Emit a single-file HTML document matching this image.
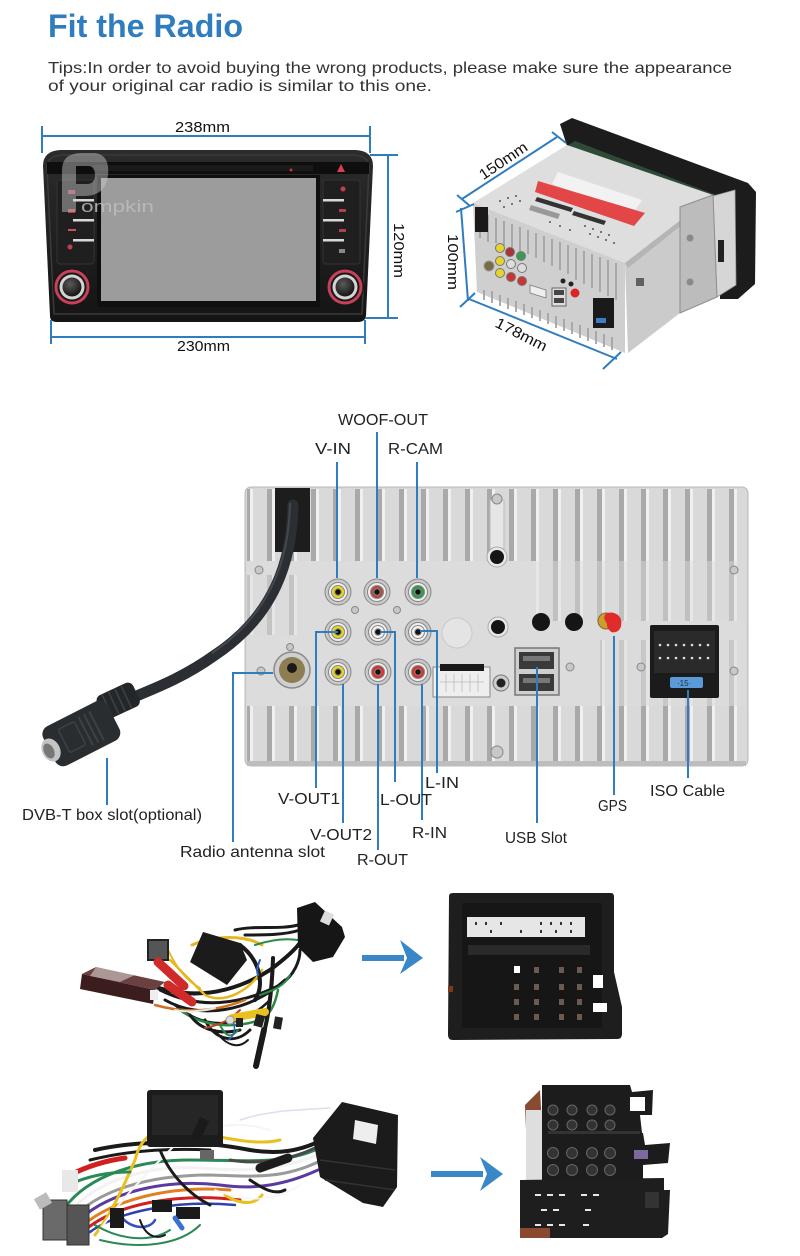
<!DOCTYPE html>
<html><head><meta charset="utf-8"><style>
html,body{margin:0;padding:0;background:#fff;}
svg{display:block;}
text{font-family:"Liberation Sans",sans-serif;}
</style></head><body>
<svg width="800" height="1256" viewBox="0 0 800 1256" xmlns="http://www.w3.org/2000/svg">
<defs>
 <pattern id="fins" x="245" y="0" width="22" height="10" patternUnits="userSpaceOnUse">
   <rect width="22" height="10" fill="#d9d9d9"/>
   <rect x="0" width="5" height="10" fill="#a9a9a9"/>
   <rect x="5" width="3" height="10" fill="#f0f0f0"/>
 </pattern>
 <linearGradient id="body" x1="0" y1="0" x2="0" y2="1">
   <stop offset="0" stop-color="#2c2c2c"/><stop offset="1" stop-color="#141414"/>
 </linearGradient>
 <radialGradient id="knobg" cx="0.4" cy="0.35" r="0.7">
   <stop offset="0" stop-color="#5a5a5a"/><stop offset="1" stop-color="#111"/>
 </radialGradient>
</defs>

<!-- Header -->
<text x="48" y="37" font-size="32" font-weight="bold" fill="#2f7dbf" textLength="195" lengthAdjust="spacingAndGlyphs">Fit the Radio</text>
<text x="48" y="73" font-size="16" fill="#333" textLength="684" lengthAdjust="spacingAndGlyphs">Tips:In order to avoid buying the wrong products, please make sure the appearance</text>
<text x="48" y="91" font-size="16" fill="#333" textLength="384" lengthAdjust="spacingAndGlyphs">of your original car radio is similar to this one.</text>

<!-- ===== Radio front ===== -->
<g>
 <path d="M43,166 Q43,151 60,150 L356,150 Q373,151 373,166 L366,316 Q365,322 358,322 L57,322 Q50,322 50,316 Z" fill="url(#body)"/>
 <path d="M47,168 Q47,156 62,155 L354,155 Q369,156 369,168 L362,314 L54,314 Z" fill="none" stroke="#3a3a3a" stroke-width="1.5"/>
 <rect x="47" y="162" width="322" height="12" fill="#0e0e0e"/>
 <rect x="93" y="165" width="220" height="6" fill="#1a1a1a"/>
 <circle cx="291" cy="170" r="1.5" fill="#d03030"/>
 <polygon points="337,172 341,164 345,172" fill="#d84050"/>
 <rect x="97" y="175" width="223" height="132" fill="#0f0f0f"/>
 <rect x="101" y="178" width="215" height="123" fill="#9c9c9c"/>
 <rect x="57" y="180" width="37" height="84" rx="3" fill="#1f1f1f" stroke="#333" stroke-width="1"/>
 <rect x="73" y="199" width="21" height="2.5" fill="#d8d8d8"/>
 <rect x="73" y="219" width="21" height="2.5" fill="#d8d8d8"/>
 <rect x="73" y="239" width="21" height="2.5" fill="#d8d8d8"/>
 <rect x="68" y="190" width="7" height="4" fill="#b04050"/>
 <rect x="68" y="209" width="7" height="4" fill="#b04050"/>
 <rect x="68" y="229" width="8" height="2" fill="#d05060"/>
 <circle cx="70" cy="247" r="2.5" fill="#c04050"/>
 <rect x="323" y="180" width="37" height="84" rx="3" fill="#1f1f1f" stroke="#333" stroke-width="1"/>
 <rect x="323" y="199" width="21" height="2.5" fill="#d8d8d8"/>
 <rect x="323" y="219" width="21" height="2.5" fill="#d8d8d8"/>
 <rect x="323" y="239" width="21" height="2.5" fill="#d8d8d8"/>
 <circle cx="343" cy="189" r="2.5" fill="#c04050"/>
 <rect x="339" y="209" width="7" height="3" fill="#b04050"/>
 <rect x="339" y="229" width="7" height="3" fill="#b04050"/>
 <rect x="339" y="249" width="6" height="4" fill="#888"/>
 <circle cx="72" cy="287" r="19" fill="#181818"/>
 <circle cx="72" cy="287" r="16" fill="none" stroke="#c8405a" stroke-width="3"/>
 <circle cx="72" cy="287" r="12.5" fill="#d4d4d4"/>
 <circle cx="72" cy="287" r="9.5" fill="url(#knobg)"/>
 <circle cx="345" cy="287" r="19" fill="#181818"/>
 <circle cx="345" cy="287" r="16" fill="none" stroke="#c8405a" stroke-width="3"/>
 <circle cx="345" cy="287" r="12.5" fill="#d4d4d4"/>
 <circle cx="345" cy="287" r="9.5" fill="url(#knobg)"/>
 <path d="M62,212 L62,170 Q62,153 82,153 L95,153 Q110,155 108,175 Q106,195 86,196 L76,196 L76,212 Z M76,166 L76,184 L88,184 Q95,183 95,175 Q95,166 88,166 Z" fill="#cfcfcf" opacity="0.45" fill-rule="evenodd"/>
 <text x="81" y="212" font-size="17" fill="#bdbdbd" opacity="0.85" textLength="73" lengthAdjust="spacingAndGlyphs">ompkin</text>
</g>
<g stroke="#2f7dbf" stroke-width="2" fill="none">
 <line x1="42" y1="136" x2="370" y2="136"/>
 <line x1="42" y1="126" x2="42" y2="153"/>
 <line x1="370" y1="126" x2="370" y2="153"/>
 <line x1="388" y1="155" x2="388" y2="318"/>
 <line x1="370" y1="155" x2="398" y2="155"/>
 <line x1="365" y1="318" x2="398" y2="318"/>
 <line x1="51" y1="337" x2="365" y2="337"/>
 <line x1="51" y1="320" x2="51" y2="344"/>
 <line x1="365" y1="320" x2="365" y2="344"/>
</g>
<text x="175" y="132" font-size="15" fill="#111" textLength="55" lengthAdjust="spacingAndGlyphs">238mm</text>
<text x="177" y="351" font-size="15" fill="#111" textLength="53" lengthAdjust="spacingAndGlyphs">230mm</text>
<text x="0" y="0" font-size="15" fill="#111" textLength="55" lengthAdjust="spacingAndGlyphs" transform="translate(394,223) rotate(90)">120mm</text>

<!-- ===== 3D unit ===== -->
<g>
 <polygon points="560,124 572,118 748,183 756,192 755,284 738,299 720,299 720,205 567,146" fill="#1c1c1c"/>
 <polygon points="567,146 713,200 716,195 575,141" fill="#3b6a4a" opacity="0.6"/>
 <polygon points="473,203 567,145 713,195 625,263" fill="#dedede"/>
 <polygon points="473,203 625,263 625,353 477,292" fill="#cfcfcf"/>
 <g stroke="#a3a3a3" stroke-width="1.8">
  <line x1="480" y1="212" x2="480" y2="238"/><line x1="488" y1="215" x2="488" y2="242"/><line x1="496" y1="218" x2="496" y2="243"/>
  <line x1="504" y1="221" x2="504" y2="246"/><line x1="512" y1="224" x2="512" y2="249"/><line x1="520" y1="227" x2="520" y2="251"/>
  <line x1="528" y1="230" x2="528" y2="254"/><line x1="536" y1="233" x2="536" y2="258"/><line x1="544" y1="236" x2="544" y2="262"/>
  <line x1="552" y1="239" x2="552" y2="266"/><line x1="560" y1="242" x2="560" y2="270"/><line x1="568" y1="245" x2="568" y2="274"/>
  <line x1="576" y1="248" x2="576" y2="280"/><line x1="584" y1="251" x2="584" y2="284"/><line x1="592" y1="254" x2="592" y2="288"/>
  <line x1="600" y1="257" x2="600" y2="292"/><line x1="608" y1="260" x2="608" y2="296"/><line x1="616" y1="263" x2="616" y2="300"/>
  <line x1="484" y1="300" x2="484" y2="290"/><line x1="492" y1="303" x2="492" y2="291"/><line x1="500" y1="306" x2="500" y2="295"/>
  <line x1="508" y1="309" x2="508" y2="298"/><line x1="516" y1="312" x2="516" y2="301"/><line x1="524" y1="315" x2="524" y2="304"/>
  <line x1="532" y1="318" x2="532" y2="307"/><line x1="540" y1="321" x2="540" y2="310"/><line x1="548" y1="324" x2="548" y2="313"/>
  <line x1="556" y1="328" x2="556" y2="316"/><line x1="564" y1="331" x2="564" y2="319"/><line x1="572" y1="334" x2="572" y2="322"/>
  <line x1="580" y1="338" x2="580" y2="325"/><line x1="588" y1="341" x2="588" y2="328"/><line x1="596" y1="344" x2="596" y2="331"/>
  <line x1="604" y1="347" x2="604" y2="334"/><line x1="612" y1="350" x2="612" y2="337"/>
 </g>
 <polygon points="625,263 713,195 708,296 680,313 628,353" fill="#cbcbcb"/>
 <polygon points="625,263 713,195 713,200 628,268" fill="#b5b5b5"/>
 <polygon points="713,196 735,190 736,285 717,297" fill="#d6d6d6" stroke="#9a9a9a" stroke-width="0.8"/>
 <polygon points="680,207 713,195 717,297 680,313" fill="#bcbcbc" stroke="#8d8d8d" stroke-width="1"/>
 <circle cx="690" cy="238" r="3.5" fill="#8a8a8a"/>
 <circle cx="690" cy="282" r="3.5" fill="#8a8a8a"/>
 <rect x="718" y="240" width="6" height="22" fill="#222"/>
 <rect x="636" y="278" width="8" height="8" fill="#333" opacity="0.7"/>
 <polygon points="558,172 642,200 633,213 552,184" fill="#f2f2f2"/>
 <polygon points="538,181 645,213 634,226 535,192" fill="#e24646"/>
 <polygon points="537,197 573,208 571,212 535,201" fill="#333"/>
 <polygon points="574,211 606,221 604,225 572,215" fill="#333"/>
 <polygon points="531,205 560,214 558,219 529,210" fill="#999"/>
 <g fill="#555">
  <circle cx="500" cy="201" r="1"/><circle cx="508" cy="198" r="1"/><circle cx="516" cy="196" r="1"/><circle cx="504" cy="207" r="1"/><circle cx="512" cy="204" r="1"/><circle cx="520" cy="201" r="1"/>
  <circle cx="585" cy="226" r="1"/><circle cx="593" cy="229" r="1"/><circle cx="601" cy="232" r="1"/><circle cx="609" cy="235" r="1"/><circle cx="590" cy="234" r="1"/><circle cx="598" cy="237" r="1"/><circle cx="606" cy="240" r="1"/><circle cx="614" cy="243" r="1"/><circle cx="550" cy="222" r="1"/><circle cx="560" cy="226" r="1"/><circle cx="570" cy="230" r="1"/>
 </g>
 <rect x="475" y="207" width="13" height="25" fill="#1a1a1a"/>
 <g stroke="#777" stroke-width="1">
  <circle cx="500" cy="248" r="4.5" fill="#e5d330"/><circle cx="510" cy="252" r="4.5" fill="#a33"/><circle cx="521" cy="256" r="4.5" fill="#3a9a50"/>
  <circle cx="500" cy="261" r="4.5" fill="#e5d330"/><circle cx="511" cy="264" r="4.5" fill="#ddd"/><circle cx="522" cy="268" r="4.5" fill="#ddd"/>
  <circle cx="500" cy="273" r="4.5" fill="#e5d330"/><circle cx="511" cy="277" r="4.5" fill="#c33"/><circle cx="522" cy="281" r="4.5" fill="#c33"/>
 </g>
 <circle cx="489" cy="266" r="5" fill="#7a6a45" stroke="#999"/>
 <polygon points="530,285 546,290 546,298 530,293" fill="#eee" stroke="#777" stroke-width="0.8"/>
 <rect x="552" y="288" width="14" height="18" fill="#ddd" stroke="#666" stroke-width="1"/>
 <rect x="554" y="290" width="10" height="5" fill="#444"/><rect x="554" y="298" width="10" height="5" fill="#444"/>
 <circle cx="575" cy="293" r="4.5" fill="#d22"/>
 <circle cx="563" cy="281" r="2.5" fill="#222"/><circle cx="571" cy="284" r="2.5" fill="#222"/>
 <rect x="593" y="298" width="21" height="30" fill="#1a1a1a"/>
 <rect x="596" y="318" width="10" height="5" fill="#3c7dc8"/>
</g>
<g stroke="#2f7dbf" stroke-width="2" fill="none">
 <line x1="462" y1="199" x2="557" y2="137"/>
 <line x1="457" y1="195" x2="470" y2="206"/>
 <line x1="552" y1="132" x2="566" y2="143"/>
 <line x1="461" y1="208" x2="468" y2="301"/>
 <line x1="456" y1="212" x2="474" y2="204"/>
 <line x1="460" y1="307" x2="475" y2="293"/>
 <line x1="469" y1="299" x2="617" y2="359"/>
 <line x1="603" y1="369" x2="621" y2="352"/>
</g>
<text x="0" y="0" font-size="15" fill="#111" text-anchor="middle" textLength="55" lengthAdjust="spacingAndGlyphs" transform="translate(506,165) rotate(-34)">150mm</text>
<text x="0" y="0" font-size="15" fill="#111" text-anchor="middle" textLength="56" lengthAdjust="spacingAndGlyphs" transform="translate(448,262) rotate(90)">100mm</text>
<text x="0" y="0" font-size="15" fill="#111" text-anchor="middle" textLength="56" lengthAdjust="spacingAndGlyphs" transform="translate(519,339) rotate(27)">178mm</text>

<!-- ===== Back panel ===== -->
<g>
 <rect x="245" y="487" width="503" height="279" rx="6" fill="#d8d8d8" stroke="#b8b8b8" stroke-width="1"/>
 <rect x="247" y="489" width="499" height="72" fill="url(#fins)"/>
 <rect x="247" y="706" width="499" height="56" fill="url(#fins)"/>
 <rect x="247" y="561" width="499" height="145" fill="#dcdcdc"/>
 <rect x="536" y="561" width="210" height="60" fill="url(#fins)" opacity="0.55"/>
 <rect x="600" y="640" width="146" height="66" fill="url(#fins)" opacity="0.4"/>
 <rect x="247" y="575" width="50" height="60" fill="url(#fins)" opacity="0.5"/>
 <rect x="247" y="761" width="499" height="5" fill="#bdbdbd"/>
 <rect x="490" y="500" width="14" height="55" fill="#e6e6e6" stroke="#bbb"/>
 <circle cx="497" cy="557" r="10" fill="#e8e8e8" stroke="#aaa"/>
 <circle cx="497" cy="557" r="7" fill="#151515"/>
 <rect x="275" y="488" width="35" height="64" fill="#1d1d1d"/>
 <g fill="#c8c8c8" stroke="#888" stroke-width="1">
  <circle cx="497" cy="499" r="5"/><circle cx="497" cy="752" r="6"/><circle cx="259" cy="570" r="4"/><circle cx="734" cy="570" r="4"/>
  <circle cx="261" cy="671" r="4"/><circle cx="734" cy="671" r="4"/><circle cx="641" cy="667" r="4"/><circle cx="570" cy="667" r="4"/>
  <circle cx="355" cy="610" r="3.5"/><circle cx="397" cy="610" r="3.5"/><circle cx="290" cy="647" r="3.5"/>
 </g>
 <g stroke="#888" stroke-width="1">
  <circle cx="338" cy="592" r="13" fill="#c9c9c9"/><circle cx="338" cy="592" r="9.5" fill="#efefef"/><circle cx="338" cy="592" r="6.5" fill="#e8d81c"/><circle cx="338" cy="592" r="3.2" fill="#111"/>
  <circle cx="377" cy="592" r="13" fill="#c9c9c9"/><circle cx="377" cy="592" r="9.5" fill="#efefef"/><circle cx="377" cy="592" r="6.5" fill="#b4483c"/><circle cx="377" cy="592" r="3.2" fill="#111"/>
  <circle cx="418" cy="592" r="13" fill="#c9c9c9"/><circle cx="418" cy="592" r="9.5" fill="#efefef"/><circle cx="418" cy="592" r="6.5" fill="#2f9a4c"/><circle cx="418" cy="592" r="3.2" fill="#111"/>
  <circle cx="338" cy="632" r="13" fill="#c9c9c9"/><circle cx="338" cy="632" r="9.5" fill="#efefef"/><circle cx="338" cy="632" r="6.5" fill="#e8d81c"/><circle cx="338" cy="632" r="3.2" fill="#111"/>
  <circle cx="378" cy="632" r="13" fill="#c9c9c9"/><circle cx="378" cy="632" r="9.5" fill="#efefef"/><circle cx="378" cy="632" r="6.5" fill="#f4f4f4"/><circle cx="378" cy="632" r="3.2" fill="#111"/>
  <circle cx="418" cy="632" r="13" fill="#c9c9c9"/><circle cx="418" cy="632" r="9.5" fill="#efefef"/><circle cx="418" cy="632" r="6.5" fill="#f4f4f4"/><circle cx="418" cy="632" r="3.2" fill="#111"/>
  <circle cx="338" cy="672" r="13" fill="#c9c9c9"/><circle cx="338" cy="672" r="9.5" fill="#efefef"/><circle cx="338" cy="672" r="6.5" fill="#e8d81c"/><circle cx="338" cy="672" r="3.2" fill="#111"/>
  <circle cx="378" cy="672" r="13" fill="#c9c9c9"/><circle cx="378" cy="672" r="9.5" fill="#efefef"/><circle cx="378" cy="672" r="6.5" fill="#d8302a"/><circle cx="378" cy="672" r="3.2" fill="#111"/>
  <circle cx="418" cy="672" r="13" fill="#c9c9c9"/><circle cx="418" cy="672" r="9.5" fill="#efefef"/><circle cx="418" cy="672" r="6.5" fill="#d8302a"/><circle cx="418" cy="672" r="3.2" fill="#111"/>
 </g>
 <circle cx="292" cy="670" r="18" fill="#cfcfcf" stroke="#8a8a8a" stroke-width="1.5"/>
 <circle cx="292" cy="670" r="13" fill="#8c7d52"/>
 <circle cx="292" cy="668" r="5" fill="#1a1a1a"/>
 <circle cx="457" cy="633" r="15" fill="#e4e4e4" stroke="#c8c8c8"/>
 <circle cx="498" cy="627" r="10" fill="#e8e8e8" stroke="#aaa"/>
 <circle cx="498" cy="627" r="7" fill="#151515"/>
 <circle cx="541" cy="622" r="9" fill="#151515"/>
 <circle cx="574" cy="622" r="9" fill="#151515"/>
 <rect x="433" y="667" width="57" height="30" fill="#eeeeee" stroke="#888" stroke-width="1"/>
 <rect x="440" y="664" width="44" height="7" fill="#1a1a1a"/>
 <g stroke="#bbb" stroke-width="0.8"><line x1="440" y1="682" x2="484" y2="682"/><line x1="446" y1="674" x2="446" y2="692"/><line x1="454" y1="674" x2="454" y2="692"/><line x1="462" y1="674" x2="462" y2="692"/><line x1="470" y1="674" x2="470" y2="692"/><line x1="478" y1="674" x2="478" y2="692"/></g>
 <circle cx="501" cy="683" r="8" fill="#ccc" stroke="#777"/>
 <circle cx="501" cy="683" r="4.5" fill="#222"/>
 <rect x="515" y="648" width="44" height="47" fill="#cfcfcf" stroke="#777" stroke-width="1.5"/>
 <rect x="519" y="652" width="35" height="17" fill="#3a3a3a"/>
 <rect x="519" y="674" width="35" height="17" fill="#3a3a3a"/>
 <rect x="523" y="656" width="27" height="5" fill="#777"/>
 <rect x="523" y="678" width="27" height="5" fill="#777"/>
 <circle cx="606" cy="621" r="8" fill="#c9a030" stroke="#8a6a20"/>
 <path d="M604,618 Q605,611 614,613 Q623,616 621,626 Q618,634 611,632 Z" fill="#e02a2a"/>
 <circle cx="614" cy="625" r="7" fill="#e22c2c"/>
 <rect x="650" y="625" width="69" height="73" rx="2" fill="#1b1b1b"/>
 <rect x="654" y="631" width="61" height="42" fill="#2a2a2a"/>
 <g fill="#ddd"><circle cx="660" cy="645" r="1.3"/><circle cx="668" cy="645" r="1.3"/><circle cx="676" cy="645" r="1.3"/><circle cx="684" cy="645" r="1.3"/><circle cx="692" cy="645" r="1.3"/><circle cx="700" cy="645" r="1.3"/><circle cx="708" cy="645" r="1.3"/>
  <circle cx="660" cy="658" r="1.3"/><circle cx="668" cy="658" r="1.3"/><circle cx="676" cy="658" r="1.3"/><circle cx="684" cy="658" r="1.3"/><circle cx="692" cy="658" r="1.3"/><circle cx="700" cy="658" r="1.3"/><circle cx="708" cy="658" r="1.3"/></g>
 <rect x="670" y="677" width="33" height="11" rx="2" fill="#5a9ad8"/>
 <text x="677" y="686" font-size="8" fill="#234">·15·</text>
</g>

<!-- cable + DVB-T plug -->
<path d="M293,505 C292,560 275,615 215,655 C180,680 150,690 122,702" stroke="#2b2f33" stroke-width="11" fill="none" stroke-linecap="round"/>
<path d="M290,503 C289,558 272,613 212,653" stroke="#555a60" stroke-width="2" fill="none" opacity="0.6"/>
<g transform="rotate(-25 120 700)">
 <rect x="98" y="687" width="40" height="26" rx="6" fill="#24272a"/>
 <g stroke="#3e4246" stroke-width="1.5"><line x1="106" y1="688" x2="106" y2="712"/><line x1="113" y1="688" x2="113" y2="712"/><line x1="120" y1="688" x2="120" y2="712"/><line x1="127" y1="688" x2="127" y2="712"/></g>
</g>
<g transform="rotate(-27 80 733)">
 <rect x="45" y="712" width="72" height="44" rx="9" fill="#2a2d30"/>
 <rect x="62" y="720" width="18" height="26" rx="2" fill="none" stroke="#3d4145" stroke-width="1.5"/>
 <g stroke="#3d4145" stroke-width="2"><line x1="86" y1="718" x2="86" y2="750"/><line x1="92" y1="718" x2="92" y2="750"/><line x1="98" y1="718" x2="98" y2="750"/></g>
</g>
<ellipse cx="51" cy="750" rx="9" ry="12" fill="#c4c4c4" transform="rotate(-27 51 750)"/>
<ellipse cx="49" cy="751" rx="5" ry="8" fill="#777" transform="rotate(-27 49 751)"/>

<!-- callout lines -->
<g stroke="#2f7dbf" stroke-width="2" fill="none">
 <line x1="377" y1="432" x2="377" y2="578"/>
 <line x1="337" y1="462" x2="337" y2="578"/>
 <line x1="417" y1="462" x2="417" y2="578"/>
 <path d="M338,632 H316 V788"/>
 <line x1="343" y1="684" x2="343" y2="823"/>
 <line x1="378" y1="684" x2="378" y2="850"/>
 <path d="M380,632 H395 V782"/>
 <line x1="422" y1="684" x2="422" y2="820"/>
 <path d="M420,631 H437 V773"/>
 <path d="M273,673 H233 V842"/>
 <line x1="107" y1="758" x2="107" y2="805"/>
 <line x1="537" y1="667" x2="537" y2="823"/>
 <line x1="614" y1="636" x2="614" y2="795"/>
 <line x1="688" y1="690" x2="688" y2="778"/>
</g>
<g font-size="16" fill="#222">
 <text x="338" y="425" textLength="90" lengthAdjust="spacingAndGlyphs">WOOF-OUT</text>
 <text x="315" y="454" textLength="36" lengthAdjust="spacingAndGlyphs">V-IN</text>
 <text x="388" y="454" textLength="55" lengthAdjust="spacingAndGlyphs">R-CAM</text>
 <text x="278" y="804" textLength="62" lengthAdjust="spacingAndGlyphs">V-OUT1</text>
 <text x="380" y="805" textLength="52" lengthAdjust="spacingAndGlyphs">L-OUT</text>
 <text x="425" y="788" textLength="34" lengthAdjust="spacingAndGlyphs">L-IN</text>
 <text x="310" y="840" textLength="62" lengthAdjust="spacingAndGlyphs">V-OUT2</text>
 <text x="412" y="838" textLength="35" lengthAdjust="spacingAndGlyphs">R-IN</text>
 <text x="357" y="865" textLength="51" lengthAdjust="spacingAndGlyphs">R-OUT</text>
 <text x="505" y="843" textLength="62" lengthAdjust="spacingAndGlyphs">USB Slot</text>
 <text x="598" y="811" textLength="29" lengthAdjust="spacingAndGlyphs">GPS</text>
 <text x="650" y="796" textLength="75" lengthAdjust="spacingAndGlyphs">ISO Cable</text>
 <text x="180" y="857" textLength="145" lengthAdjust="spacingAndGlyphs">Radio antenna slot</text>
 <text x="22" y="820" textLength="180" lengthAdjust="spacingAndGlyphs">DVB-T box slot(optional)</text>
</g>

<!-- ===== Harness 1 ===== -->
<g fill="none" stroke-linecap="round">
 <path d="M150,985 C190,1000 230,995 270,970 C290,955 300,945 305,935" stroke="#1a1a1a" stroke-width="4"/>
 <path d="M160,990 C200,1010 240,1005 280,985 C295,975 300,960 300,950" stroke="#1a1a1a" stroke-width="3"/>
 <path d="M165,1000 C200,1020 250,1012 285,980" stroke="#1a1a1a" stroke-width="3"/>
 <path d="M175,1005 C205,1030 240,1030 270,1000" stroke="#1a1a1a" stroke-width="2.5"/>
 <path d="M205,1020 C215,1040 235,1045 250,1030" stroke="#1a1a1a" stroke-width="3"/>
 <path d="M215,1030 C225,1045 238,1050 248,1040" stroke="#1a1a1a" stroke-width="2"/>
 <path d="M170,960 C185,975 195,985 205,995 C225,1005 250,990 262,970" stroke="#e6b820" stroke-width="2.5"/>
 <path d="M192,945 C215,935 245,935 262,945" stroke="#e6b820" stroke-width="3"/>
 <path d="M168,950 C175,965 185,980 200,988" stroke="#e6b820" stroke-width="2"/>
 <path d="M155,1005 C190,1015 220,1010 245,1000" stroke="#d07020" stroke-width="2.5"/>
 <path d="M180,1010 C200,1025 230,1030 260,1020 C270,1015 275,1005 278,990" stroke="#2a8a45" stroke-width="2.5"/>
 <path d="M190,1015 C200,1030 220,1035 240,1030" stroke="#1a1a1a" stroke-width="3"/>
 <path d="M240,945 C260,960 265,985 255,1000" stroke="#1a1a1a" stroke-width="4"/>
 <path d="M273,958 C272,990 268,1020 262,1040" stroke="#1a1a1a" stroke-width="4"/>
 <path d="M235,930 C255,925 280,930 298,925" stroke="#1a1a1a" stroke-width="3"/>
 <path d="M245,935 C265,935 285,935 300,930" stroke="#1a1a1a" stroke-width="3"/>
 <path d="M255,945 C270,940 285,938 298,940" stroke="#2a8a45" stroke-width="2"/>
 <path d="M240,1010 C230,1020 220,1025 205,1028" stroke="#c04020" stroke-width="2"/>
 <path d="M260,960 C258,965 256,970 258,975" stroke="#3060c0" stroke-width="2"/>
 <path d="M220,1025 C225,1035 230,1040 238,1030" stroke="#2a8a45" stroke-width="2"/>
 <path d="M232,1020 C238,1030 232,1038 228,1040" stroke="#3060c0" stroke-width="1.5"/>
 <path d="M260,995 C275,990 285,985 290,975" stroke="#2a8a45" stroke-width="2"/>
 <path d="M175,1010 C185,1012 200,1012 215,1008" stroke="#e8e8e8" stroke-width="2"/>
</g>
<polygon points="82,974 96,967 165,982 155,990" fill="#6a4040"/>
<polygon points="82,974 155,990 153,1004 80,989" fill="#3b1d1d"/>
<polygon points="96,967 135,975 120,982 90,976" fill="#d8d0d0" opacity="0.6"/>
<rect x="150" y="990" width="8" height="10" fill="#eee"/>
<polygon points="203,932 240,943 247,960 227,985 190,962" fill="#1b1b1b"/>
<polygon points="315,902 342,927 345,937 333,957 313,962 298,947 297,908" fill="#161616"/>
<rect x="322" y="912" width="10" height="12" fill="#ddd" transform="rotate(25 327 918)"/>
<rect x="148" y="940" width="20" height="20" fill="#555" stroke="#222" stroke-width="2"/>
<path d="M158,962 L184,986" stroke="#d02a2a" stroke-width="9" stroke-linecap="round"/>
<path d="M168,985 L192,1002" stroke="#d02a2a" stroke-width="9" stroke-linecap="round"/>
<path d="M232,1018 L265,1012" stroke="#e8c020" stroke-width="8" stroke-linecap="round"/>
<circle cx="230" cy="1020" r="4" fill="#ddd" stroke="#999"/>
<path d="M264,1030 L256,1066" stroke="#1a1a1a" stroke-width="6" stroke-linecap="round"/>
<rect x="255" y="1015" width="9" height="12" fill="#222" transform="rotate(15 260 1020)"/>
<rect x="236" y="1018" width="7" height="9" fill="#222"/>
<rect x="274" y="1017" width="8" height="12" fill="#222" transform="rotate(10 278 1023)"/>

<!-- arrows -->
<rect x="362" y="955" width="42" height="6" fill="#3a87c8"/>
<polygon points="400,940 423,958 400,974 407,958" fill="#3a87c8"/>
<rect x="431" y="1171" width="52" height="6" fill="#3a87c8"/>
<polygon points="480,1157 503,1174 480,1191 487,1174" fill="#3a87c8"/>

<!-- ===== Quadlock connector ===== -->
<g>
 <path d="M449,896 Q449,893 453,893 L611,893 Q614,893 614,897 L614,972 L622,1007 L622,1034 Q622,1039 617,1039 L453,1040 Q448,1040 448,1035 Z" fill="#1e1e1e"/>
 <rect x="462" y="903" width="140" height="125" fill="#161616"/>
 <rect x="467" y="917" width="118" height="20" fill="#e6e6e6"/>
 <g fill="#333"><rect x="475" y="922" width="2" height="3"/><rect x="485" y="922" width="2" height="3"/><rect x="500" y="922" width="2" height="3"/><rect x="540" y="922" width="2" height="3"/><rect x="550" y="922" width="2" height="3"/><rect x="560" y="922" width="2" height="3"/><rect x="570" y="922" width="2" height="3"/>
 <rect x="490" y="930" width="2" height="3"/><rect x="520" y="930" width="2" height="3"/><rect x="540" y="930" width="2" height="3"/><rect x="555" y="930" width="2" height="3"/><rect x="570" y="930" width="2" height="3"/></g>
 <rect x="468" y="945" width="122" height="10" fill="#2a2a2a"/>
 <rect x="593" y="975" width="10" height="13" fill="#fff"/>
 <rect x="593" y="1003" width="14" height="9" fill="#fff"/>
 <g fill="#6b5a50"><rect x="514" y="967" width="5" height="6"/><rect x="534" y="967" width="5" height="6"/><rect x="559" y="967" width="5" height="6"/><rect x="577" y="967" width="5" height="6"/>
 <rect x="514" y="984" width="5" height="6"/><rect x="534" y="984" width="5" height="6"/><rect x="559" y="984" width="5" height="6"/><rect x="577" y="984" width="5" height="6"/>
 <rect x="514" y="999" width="5" height="6"/><rect x="534" y="999" width="5" height="6"/><rect x="559" y="999" width="5" height="6"/><rect x="577" y="999" width="5" height="6"/>
 <rect x="514" y="1014" width="5" height="6"/><rect x="534" y="1014" width="5" height="6"/><rect x="559" y="1014" width="5" height="6"/><rect x="577" y="1014" width="5" height="6"/></g>
 <rect x="514" y="966" width="6" height="7" fill="#fff"/>
 <rect x="448" y="986" width="5" height="6" fill="#7a3a20"/>
</g>

<!-- ===== Harness 2 ===== -->
<g fill="none" stroke-linecap="round">
 <path d="M95,1150 C140,1140 200,1140 250,1150 C280,1155 300,1150 318,1142" stroke="#1a1a1a" stroke-width="4"/>
 <path d="M90,1160 C130,1150 170,1148 210,1150" stroke="#1a1a1a" stroke-width="3"/>
 <path d="M60,1215 C80,1180 130,1160 190,1160 C240,1160 280,1165 315,1150" stroke="#2a8a55" stroke-width="3"/>
 <path d="M65,1220 C85,1185 140,1165 200,1168 C250,1172 280,1170 318,1155" stroke="#f2f2f2" stroke-width="3"/>
 <path d="M70,1222 C95,1190 150,1175 210,1175 C250,1176 280,1180 318,1162" stroke="#9a9a9a" stroke-width="3"/>
 <path d="M75,1225 C100,1195 160,1178 220,1185 C255,1190 285,1185 318,1170" stroke="#5a3aa0" stroke-width="3"/>
 <path d="M80,1228 C110,1200 170,1185 230,1190" stroke="#e08020" stroke-width="3"/>
 <path d="M85,1230 C115,1205 175,1192 240,1200" stroke="#d02020" stroke-width="3"/>
 <path d="M90,1232 C120,1210 180,1200 235,1205" stroke="#3040b0" stroke-width="2.5"/>
 <path d="M95,1235 C110,1215 120,1195 135,1160 C140,1140 150,1130 175,1128" stroke="#e8c020" stroke-width="3"/>
 <path d="M100,1230 C120,1200 150,1170 175,1145 C200,1125 240,1120 270,1130" stroke="#f5f5f5" stroke-width="2"/>
 <path d="M210,1135 C235,1140 260,1145 280,1140" stroke="#e8c020" stroke-width="3"/>
 <path d="M160,1150 C170,1175 190,1195 210,1205" stroke="#1a1a1a" stroke-width="3"/>
 <path d="M95,1225 C120,1240 150,1243 170,1230" stroke="#2a8a55" stroke-width="2"/>
 <path d="M120,1215 C130,1230 150,1230 155,1220" stroke="#3050c0" stroke-width="2.5"/>
 <path d="M70,1175 C90,1165 110,1160 125,1158" stroke="#d02020" stroke-width="5"/>
 <path d="M68,1185 C90,1175 110,1172 130,1172" stroke="#2a8a55" stroke-width="3"/>
 <path d="M240,1120 C270,1110 300,1110 330,1108" stroke="#dde" stroke-width="1.5"/>
 <path d="M250,1180 C265,1190 275,1195 285,1190" stroke="#1a1a1a" stroke-width="3"/>
 <path d="M230,1160 C260,1165 290,1160 315,1148" stroke="#4a4a4a" stroke-width="3"/>
 <path d="M225,1195 C240,1205 255,1205 262,1195" stroke="#e8c020" stroke-width="3"/>
 <path d="M215,1190 C240,1200 270,1205 300,1185" stroke="#f5f5f5" stroke-width="1.5"/>
 <path d="M100,1240 C140,1250 180,1245 200,1225" stroke="#2a8a55" stroke-width="2"/>
 <path d="M140,1220 C145,1235 155,1240 165,1235" stroke="#1a1a1a" stroke-width="2"/>
</g>
<rect x="147" y="1090" width="76" height="57" rx="3" fill="#1c1c1c"/>
<rect x="152" y="1095" width="66" height="40" fill="#262626"/>
<path d="M260,1168 L288,1158" stroke="#1c1c1c" stroke-width="9" stroke-linecap="round"/>
<rect x="200" y="1150" width="14" height="10" fill="#666"/>
<polygon points="342,1102 398,1115 397,1187 383,1207 363,1203 320,1177 313,1138" fill="#1b1b1b"/>
<polygon points="355,1120 378,1125 376,1144 353,1139" fill="#eeeeee"/>
<g stroke="#333" stroke-width="1.5"><line x1="320" y1="1160" x2="395" y2="1170"/><line x1="325" y1="1180" x2="395" y2="1190"/></g>
<rect x="43" y="1200" width="24" height="40" fill="#6a6a6a" stroke="#333" stroke-width="1"/>
<rect x="67" y="1205" width="22" height="40" fill="#555" stroke="#333" stroke-width="1"/>
<rect x="36" y="1195" width="14" height="12" fill="#bbb" transform="rotate(-30 43 1201)"/>
<rect x="62" y="1170" width="16" height="22" fill="#e8e8e8"/>
<rect x="152" y="1200" width="20" height="12" fill="#1a1a1a"/>
<rect x="176" y="1207" width="24" height="12" fill="#1a1a1a"/>
<rect x="110" y="1208" width="14" height="20" fill="#1a1a1a"/>
<rect x="195" y="1118" width="10" height="22" fill="#1a1a1a" transform="rotate(25 200 1129)"/>
<path d="M175,1218 L182,1228" stroke="#3a70d0" stroke-width="5" stroke-linecap="round"/>

<!-- ===== ISO connector 2 ===== -->
<g>
 <polygon points="525,1105 540,1090 545,1180 528,1180" fill="#8a4a30"/>
 <rect x="526" y="1110" width="16" height="70" fill="#dedede"/>
 <polygon points="542,1085 630,1085 632,1092 653,1090 652,1115 640,1115 642,1133 542,1133" fill="#1c1c1c"/>
 <rect x="630" y="1097" width="15" height="14" fill="#fff"/>
 <polygon points="542,1133 643,1133 645,1145 670,1143 668,1163 643,1165 643,1180 542,1180" fill="#1c1c1c"/>
 <rect x="634" y="1150" width="14" height="9" fill="#7a6aa0"/>
 <polygon points="520,1180 664,1178 664,1190 670,1190 668,1234 662,1238 525,1238 520,1230" fill="#1e1e1e"/>
 <rect x="520" y="1228" width="30" height="10" fill="#8a4a30"/>
 <rect x="548" y="1131" width="92" height="3" fill="#333"/>
 <g fill="#333" stroke="#666" stroke-width="1">
  <circle cx="553" cy="1110" r="5"/><circle cx="572" cy="1110" r="5"/><circle cx="592" cy="1110" r="5"/><circle cx="610" cy="1110" r="5"/>
  <circle cx="553" cy="1125" r="5"/><circle cx="572" cy="1125" r="5"/><circle cx="592" cy="1125" r="5"/><circle cx="610" cy="1125" r="5"/>
  <circle cx="553" cy="1153" r="5.5"/><circle cx="572" cy="1153" r="5.5"/><circle cx="592" cy="1153" r="5.5"/><circle cx="610" cy="1153" r="5.5"/>
  <circle cx="553" cy="1170" r="5.5"/><circle cx="572" cy="1170" r="5.5"/><circle cx="592" cy="1170" r="5.5"/><circle cx="610" cy="1170" r="5.5"/>
 </g>
 <g fill="#e8e8e8">
  <rect x="535" y="1194" width="6" height="2"/><rect x="547" y="1194" width="6" height="2"/><rect x="559" y="1194" width="6" height="2"/><rect x="581" y="1194" width="6" height="2"/><rect x="593" y="1194" width="6" height="2"/>
  <rect x="541" y="1209" width="6" height="2"/><rect x="553" y="1209" width="6" height="2"/><rect x="585" y="1209" width="6" height="2"/>
  <rect x="535" y="1224" width="6" height="2"/><rect x="547" y="1224" width="6" height="2"/><rect x="559" y="1224" width="6" height="2"/><rect x="583" y="1224" width="6" height="2"/>
 </g>
 <rect x="645" y="1192" width="14" height="16" fill="#333"/>
</g>
</svg>
</body></html>
